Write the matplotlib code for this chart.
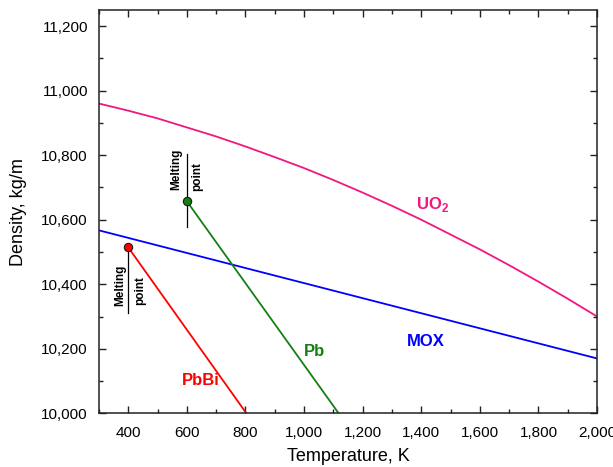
import matplotlib
matplotlib.use("Agg")
import matplotlib.pyplot as plt
from matplotlib.ticker import MultipleLocator, FuncFormatter

plt.rcParams['font.family'] = ['Liberation Sans', 'DejaVu Sans']
plt.rcParams['mathtext.fontset'] = 'custom'
plt.rcParams['mathtext.rm'] = 'Liberation Sans'
plt.rcParams['mathtext.bf'] = 'Liberation Sans:bold'

# Data
uo2_T = [300, 400, 500, 600, 700, 800, 900, 1000, 1100, 1200,
         1300, 1400, 1500, 1600, 1700, 1800, 1900, 2000]
uo2_rho = [10960, 10938, 10914, 10886, 10858, 10827, 10794, 10760, 10723, 10684,
           10643, 10600, 10554, 10508, 10459, 10408, 10355, 10300]

mox_T = [300, 2000]
mox_rho = [10567, 10170]

pb_T = [600, 1118]
pb_rho = [10657, 10000]

pbbi_T = [400, 803]
pbbi_rho = [10514, 10000]

# melting point markers
pb_melt = (600, 10657)
pbbi_melt = (400, 10514)

c_uo2 = "#F2177F"
c_mox = "#0000FF"
c_pb = "#138013"
c_pbbi = "#FF0000"

fig = plt.figure(figsize=(6.13, 4.67), dpi=100)
ax = fig.add_axes([0.1615, 0.115, 0.8125, 0.8636])

ax.plot(uo2_T, uo2_rho, color=c_uo2, lw=1.3)
ax.plot(mox_T, mox_rho, color=c_mox, lw=1.3)
ax.plot(pb_T, pb_rho, color=c_pb, lw=1.3)
ax.plot(pbbi_T, pbbi_rho, color=c_pbbi, lw=1.3)

# melting point vertical lines
ax.plot([600, 600], [10578, 10804], color="black", lw=0.9, zorder=3)
ax.plot([400, 400], [10311, 10514], color="black", lw=0.9, zorder=3)

ax.plot(*pb_melt, marker='o', ms=6, mfc=c_pb, mec="#1a1a1a", mew=0.8, zorder=5)
ax.plot(*pbbi_melt, marker='o', ms=6, mfc=c_pbbi, mec="#1a1a1a", mew=0.8, zorder=5)

tkw = dict(fontsize=8.5, fontweight='bold', rotation=90, ha='center', va='center')
ax.text(372, 10396, "Melting", **tkw)
ax.text(441, 10381, "point", **tkw)
ax.text(564, 10755, "Melting", **tkw)
ax.text(635, 10734, "point", **tkw)

lkw = dict(fontsize=12, fontweight='bold', ha='center', va='center')
ax.text(1439, 10647, r"UO$_\mathbf{2}$", color=c_uo2, **lkw)
ax.text(1415, 10224, "MOX", color=c_mox, **lkw)
ax.text(1036, 10190, "Pb", color=c_pb, **lkw)
ax.text(649, 10101, "PbBi", color=c_pbbi, **lkw)

ax.set_xlim(300, 2000)
ax.set_ylim(10000, 11250)
ax.xaxis.set_major_locator(MultipleLocator(200))
ax.xaxis.set_minor_locator(MultipleLocator(100))
ax.yaxis.set_major_locator(MultipleLocator(200))
ax.yaxis.set_minor_locator(MultipleLocator(100))
fmt = FuncFormatter(lambda v, p: f"{int(round(v)):,}")
ax.xaxis.set_major_formatter(fmt)
ax.yaxis.set_major_formatter(fmt)

ax.tick_params(which='both', direction='in', top=True, right=True, labelsize=11,
               color='#222222', width=1.0)
ax.tick_params(which='major', length=5)
ax.tick_params(which='minor', length=3)
ax.tick_params(axis='y', pad=8)
ax.tick_params(axis='x', pad=9)
for s in ax.spines.values():
    s.set_linewidth(1.1)
    s.set_color('#222222')

ax.set_xlabel("Temperature, K", fontsize=13, labelpad=6)
ax.set_ylabel("Density, kg/m", fontsize=13, labelpad=10)

fig.savefig("out.png", dpi=100)
